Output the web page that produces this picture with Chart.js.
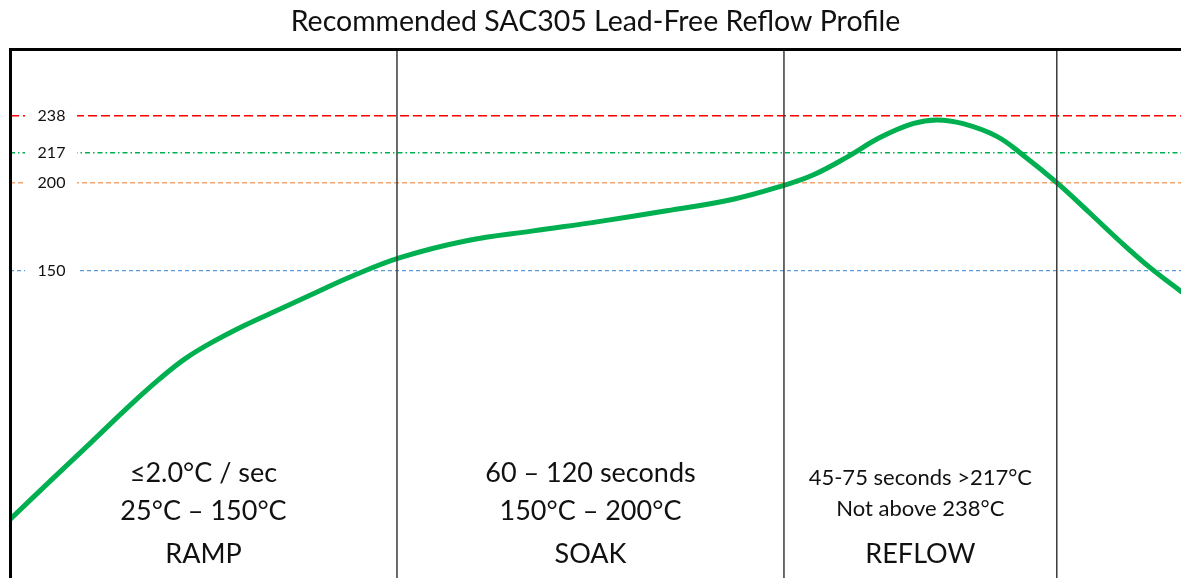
<!DOCTYPE html>
<html><head><meta charset="utf-8">
<script src="https://cdn.jsdelivr.net/npm/chart.js@4/dist/chart.umd.min.js"></script>
<style>html,body{margin:0;padding:0;background:#fff;overflow:hidden}#wrap{width:1181px;height:578px;position:relative}</style>
</head><body><div id="wrap"><canvas id="c" width="1181" height="578"></canvas></div>
<script>
// ---- data ----
const chartTitle = 'Recommended SAC305 Lead-Free Reflow Profile';
const profileTime = [0, 10.3, 20.7, 31.0, 38.8, 45.2, 51.7, 60.7, 69.8, 78.8, 87.9, 100.8, 118.0, 135.2, 152.5, 169.7, 186.9, 200.0, 207.5, 216.3, 224.8, 233.3, 239.5, 246.3, 255.0, 261.8, 270.5, 279.1, 286.8, 294.6, 302.6];
const profileTemp = [8.7, 30.3, 51.9, 73.5, 88.8, 99.9, 108.7, 119.0, 128.2, 137.3, 146.4, 157.4, 167.0, 172.6, 178.0, 184.0, 190.6, 198.5, 204.3, 214.5, 225.6, 233.5, 235.6, 233.5, 226.3, 215.6, 200.0, 182.6, 166.7, 151.7, 138.2];
const refLevels = [238, 217, 200, 150];
const phaseBounds = [100, 200, 270.5];
const phaseStarts = [0, 100, 200];
const phaseNames = ['RAMP', 'SOAK', 'REFLOW'];
const phaseNoteLine1 = ['≤2.0°C / sec', '60 – 120 seconds', '45-75 seconds >217°C'];
const phaseNoteLine2 = ['25°C – 150°C', '150°C – 200°C', 'Not above 238°C'];
const xMin = 0, xMax = 302.6, yMin = -24.6, yMax = 276.5;

// ---- styles ----
const refStyle = {
  238: {color: '#FF0000', dash: [9, 4], width: 1.5},
  217: {color: '#00B050', dash: [5, 3, 1.5, 3], width: 1.3},
  200: {color: '#F4A56C', dash: [5, 3], width: 1.5},
  150: {color: '#5B9BD5', dash: [4, 3], width: 1.3}
};
const FONT = 'Lato, "Open Sans", sans-serif';

const datasets = [];
phaseBounds.forEach(b => datasets.push({
  data: [{x: b, y: yMin}, {x: b, y: yMax}],
  borderColor: '#3a3a3a', borderWidth: 1.5, pointRadius: 0, tension: 0
}));
datasets.push({
  data: profileTime.map((t, i) => ({x: t, y: profileTemp[i]})),
  borderColor: '#00B050', borderWidth: 5, pointRadius: 0,
  tension: 0.4, borderCapStyle: 'round', borderJoinStyle: 'round'
});
refLevels.forEach(v => datasets.push({
  data: [{x: xMin, y: v}, {x: xMax, y: v}],
  borderColor: refStyle[v].color, borderWidth: refStyle[v].width,
  borderDash: refStyle[v].dash, pointRadius: 0, tension: 0
}));

const overlay = {
  id: 'overlay',
  afterDatasetsDraw(chart) {
    const {ctx, chartArea: a, scales: {x, y}} = chart;
    ctx.save();
    // frame
    ctx.strokeStyle = '#000';
    ctx.lineWidth = 3;
    ctx.beginPath(); ctx.moveTo(a.left - 1, a.top + 1.5); ctx.lineTo(a.right, a.top + 1.5); ctx.stroke();
    ctx.beginPath(); ctx.moveTo(a.left + 0.5, a.top); ctx.lineTo(a.left + 0.5, a.bottom); ctx.stroke();
    // reference labels
    ctx.textAlign = 'center';
    ctx.textBaseline = 'middle';
    ctx.font = '16px ' + FONT;
    refLevels.forEach(v => {
      const py = y.getPixelForValue(v);
      ctx.fillStyle = '#fff';
      ctx.fillRect(a.left + 15, py - 4, 52, 8);
      ctx.fillStyle = '#111';
      ctx.fillText(String(v), a.left + 41.5, py);
    });
    // phase notes
    ctx.textBaseline = 'alphabetic';
    phaseNames.forEach((name, i) => {
      const cx = x.getPixelForValue((phaseStarts[i] + phaseBounds[i]) / 2);
      const small = i === 2;
      ctx.fillStyle = '#111';
      ctx.font = (small ? '22px ' : '27px ') + FONT;
      ctx.fillText(phaseNoteLine1[i], cx, a.bottom - (small ? 93 : 96));
      ctx.fillText(phaseNoteLine2[i], cx, a.bottom - (small ? 62 : 58));
      ctx.font = '27px ' + FONT;
      ctx.fillText(name, cx, a.bottom - 15);
    });
    ctx.restore();
  }
};

new Chart(document.getElementById('c'), {
  type: 'line',
  data: {datasets},
  options: {
    responsive: false, animation: false, devicePixelRatio: 1,
    layout: {padding: {left: 10, right: 0, top: 0, bottom: 0}},
    plugins: {
      legend: {display: false}, tooltip: {enabled: false},
      title: {display: true, text: chartTitle, color: '#111',
        font: {family: FONT, size: 28.5, weight: 'normal', lineHeight: 1.2},
        padding: {top: 5, bottom: 8.8}}
    },
    scales: {
      x: {type: 'linear', min: xMin, max: xMax, display: false},
      y: {type: 'linear', min: yMin, max: yMax, display: false}
    }
  },
  plugins: [overlay]
});
</script></body></html>
